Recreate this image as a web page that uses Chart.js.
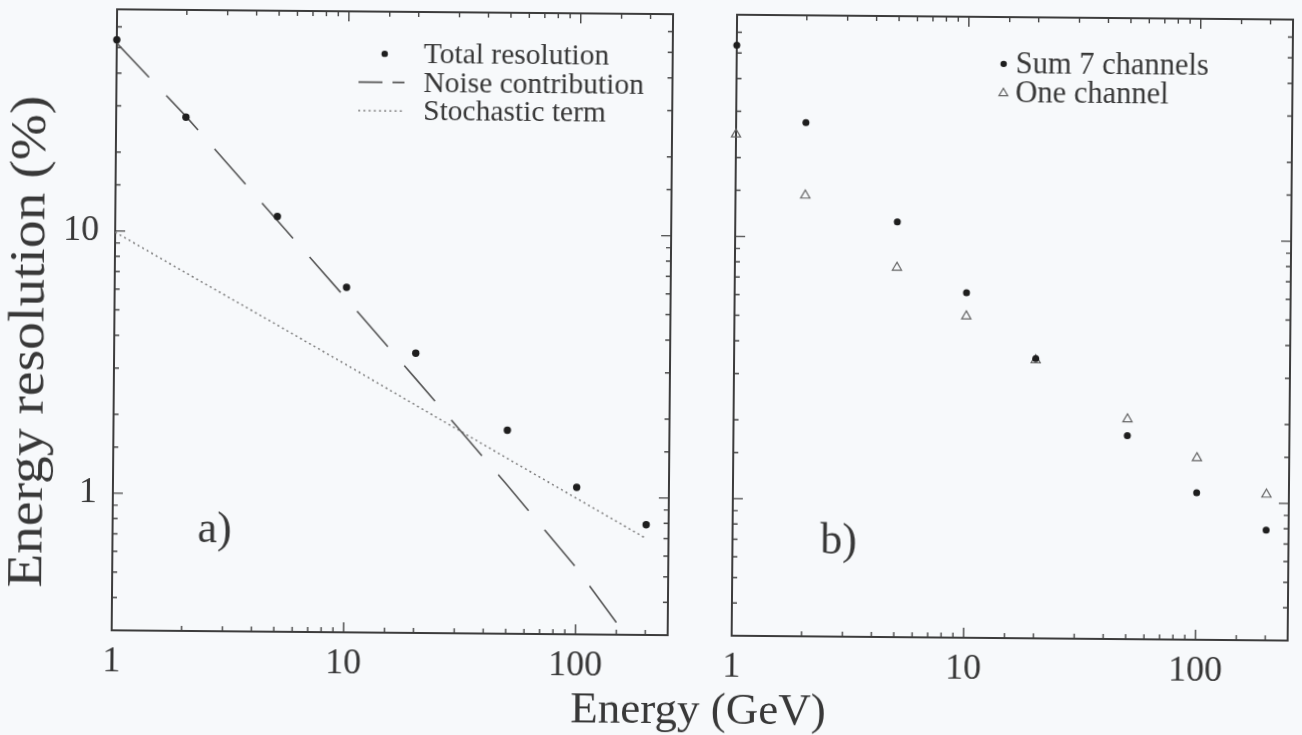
<!DOCTYPE html>
<html>
<head>
<meta charset="utf-8">
<title>Energy resolution vs energy</title>
<script src="https://cdn.jsdelivr.net/npm/chart.js@4.4.1/dist/chart.umd.min.js"></script>
<style>
  html, body { margin: 0; padding: 0; background: #f7f9fb; overflow: hidden; }
  #page {
    position: relative; width: 1302px; height: 735px; background: #f7f9fb;
    transform: rotate(0.5deg); transform-origin: 651px 367px;
    font-family: 'Liberation Serif', 'Times New Roman', serif; color: #383838;
  }
  #panelA { position: absolute; left: 0; top: 0; }
  #panelB { position: absolute; left: 700px; top: 0; }
  #xTitle {
    position: absolute; left: 451px; width: 500px; top: 686px;
    text-align: center; font-size: 45px; line-height: 45px; white-space: nowrap;
  }
  #yTitle {
    position: absolute; left: 26px; top: 347px; width: 600px;
    text-align: center; font-size: 50px; line-height: 50px; white-space: nowrap;
    transform: translate(-50%, -50%) rotate(-90deg) scaleX(1.11);
  }
</style>
</head>
<body>
<div id="page">
  <canvas id="panelA" width="700" height="735"></canvas>
  <canvas id="panelB" width="602" height="735"></canvas>
  <div id="yTitle">Energy resolution (%)</div>
  <div id="xTitle">Energy (GeV)</div>
</div>
<script>
// Beam energies (GeV) of the measured points
const energies = [1, 2, 5, 10, 20, 50, 100, 200];

// Panel a) total energy resolution (%)
const totalResolution = [53.6, 27.3, 11.5, 6.2, 3.5, 1.79, 1.09, 0.79];

// Panel a) fitted noise contribution (%)
const noiseEnergies = [1, 2, 5, 10, 20, 50, 100, 150];
const noiseContribution = [52, 27.5, 11.1, 5.6, 2.8, 1.11, 0.54, 0.334];

// Panel a) stochastic term (%)
const stochasticEnergies = [1, 2, 5, 10, 20, 50, 100, 200];
const stochasticTerm = [9.9, 7.0, 4.45, 3.15, 2.22, 1.4, 0.99, 0.70];

// Panel b) resolution summing 7 channels vs a single channel (%)
const sumSevenChannels = [53.6, 27.3, 11.5, 6.2, 3.5, 1.79, 1.09, 0.79];
const oneChannel = [24.5, 14.4, 7.7, 5.05, 3.45, 2.07, 1.48, 1.08];

// Axis ranges and labelled ticks
const xRange = [1, 250];
const yRange = [0.3, 70];
const xTickValues = [1, 10, 100];
const xTickLabels = ['1', '10', '100'];
const yTickValues = [1, 10];
const yTickLabels = ['1', '10'];

const SERIF = "'Liberation Serif', 'Times New Roman', serif";
const INK = '#383838';

const pairs = (xs, ys) => xs.map((x, i) => ({ x, y: ys[i] }));
const labelFor = (values, labels) => (v) => {
  const i = values.findIndex(t => Math.abs(t - v) < 1e-9 * Math.max(1, t));
  return i >= 0 ? labels[i] : '';
};
const isDecade = (v) => Math.abs(Math.log10(v) - Math.round(Math.log10(v))) < 1e-9;

// Frame around the plot area with inward ticks on all four sides
const frameTicks = {
  id: 'frameTicks',
  beforeDatasetsDraw(chart) {
    const { ctx, chartArea: a, scales } = chart;
    ctx.save();
    ctx.strokeStyle = '#454545';
    ctx.lineWidth = 1.4;
    scales.x.ticks.forEach(t => {
      if (t.value <= scales.x.min || t.value >= scales.x.max) return;
      const px = scales.x.getPixelForValue(t.value);
      const len = isDecade(t.value) ? 10 : 5;
      ctx.beginPath();
      ctx.moveTo(px, a.bottom); ctx.lineTo(px, a.bottom - len);
      ctx.moveTo(px, a.top); ctx.lineTo(px, a.top + len);
      ctx.stroke();
    });
    scales.y.ticks.forEach(t => {
      if (t.value <= scales.y.min || t.value >= scales.y.max) return;
      const py = scales.y.getPixelForValue(t.value);
      const len = isDecade(t.value) ? 10 : 5;
      ctx.beginPath();
      ctx.moveTo(a.left, py); ctx.lineTo(a.left + len, py);
      ctx.moveTo(a.right, py); ctx.lineTo(a.right - len, py);
      ctx.stroke();
    });
    ctx.lineWidth = 2;
    ctx.strokeStyle = '#3c3c3c';
    ctx.strokeRect(a.left, a.top, a.right - a.left, a.bottom - a.top);
    ctx.restore();
  }
};

// Legend drawn inside the plot area, plus the panel tag
const insideLegend = {
  id: 'insideLegend',
  afterDatasetsDraw(chart, args, opts) {
    const { ctx } = chart;
    ctx.save();
    ctx.font = `${opts.fontSize}px ${SERIF}`;
    ctx.textBaseline = 'alphabetic';
    ctx.textAlign = 'left';
    chart.data.datasets.forEach((ds, i) => {
      const base = opts.y + i * opts.rowHeight;
      const mid = base - opts.fontSize * 0.3;
      ctx.fillStyle = INK;
      ctx.fillText(ds.label, opts.textX, base);
      if (ds.showLine) {
        ctx.strokeStyle = ds.borderColor;
        ctx.lineWidth = ds.borderWidth;
        ctx.setLineDash(ds.legendDash || []);
        ctx.beginPath();
        ctx.moveTo(opts.lineFrom, mid);
        ctx.lineTo(opts.lineTo, mid);
        ctx.stroke();
        ctx.setLineDash([]);
      } else if (ds.pointStyle === 'triangle') {
        const r = opts.triangleRadius;
        ctx.strokeStyle = ds.borderColor;
        ctx.lineWidth = ds.borderWidth;
        ctx.beginPath();
        ctx.moveTo(opts.markerX, mid - r);
        ctx.lineTo(opts.markerX + r * 0.95, mid + r * 0.6);
        ctx.lineTo(opts.markerX - r * 0.95, mid + r * 0.6);
        ctx.closePath();
        ctx.stroke();
      } else {
        ctx.fillStyle = ds.backgroundColor;
        ctx.beginPath();
        ctx.arc(opts.markerX, mid, opts.markerRadius, 0, Math.PI * 2);
        ctx.fill();
      }
    });
    if (opts.tag) {
      ctx.font = `${opts.tagSize}px ${SERIF}`;
      ctx.fillStyle = INK;
      ctx.textAlign = 'center';
      ctx.textBaseline = 'middle';
      ctx.fillText(opts.tag, opts.tagX, opts.tagY);
    }
    ctx.restore();
  }
};

Chart.defaults.font.family = SERIF;
Chart.defaults.color = INK;

function logScales(showYLabels, yAxisWidth) {
  return {
    x: {
      type: 'logarithmic', min: xRange[0], max: xRange[1],
      grid: { display: false, drawTicks: false },
      border: { display: false },
      ticks: {
        autoSkip: false, maxRotation: 0, padding: 10,
        font: { size: 36 }, color: INK,
        callback: labelFor(xTickValues, xTickLabels)
      },
      afterFit(s) { s.height = 100; s.paddingLeft = 0; s.paddingRight = 0; }
    },
    y: {
      type: 'logarithmic', min: yRange[0], max: yRange[1],
      grid: { display: false, drawTicks: false },
      border: { display: false },
      ticks: {
        display: showYLabels, autoSkip: false, padding: 16,
        font: { size: 36 }, color: INK,
        callback: labelFor(yTickValues, yTickLabels)
      },
      afterFit(s) { s.width = yAxisWidth; s.paddingTop = 0; s.paddingBottom = 0; }
    }
  };
}

new Chart(document.getElementById('panelA'), {
  type: 'scatter',
  data: {
    datasets: [
      {
        label: 'Total resolution', data: pairs(energies, totalResolution),
        pointRadius: 3.7, pointHoverRadius: 3.7, backgroundColor: '#1e1e1e',
        borderColor: '#1e1e1e', borderWidth: 0, showLine: false, clip: false
      },
      {
        label: 'Noise contribution', data: pairs(noiseEnergies, noiseContribution),
        showLine: true, pointRadius: 0, borderColor: '#555555', borderWidth: 1.6,
        borderDash: [47, 25], legendDash: [24, 10], backgroundColor: 'transparent'
      },
      {
        label: 'Stochastic term', data: pairs(stochasticEnergies, stochasticTerm),
        showLine: true, pointRadius: 0, borderColor: '#7d7d7d', borderWidth: 1.5,
        borderDash: [2, 3.2], legendDash: [2, 3.2], backgroundColor: 'transparent'
      }
    ]
  },
  options: {
    responsive: false, animation: false, events: [],
    layout: { padding: { left: 0, top: 14, right: 30, bottom: 0 } },
    scales: logScales(true, 114),
    plugins: {
      legend: { display: false }, tooltip: { enabled: false },
      insideLegend: {
        fontSize: 29.5, y: 65, rowHeight: 28.5, textX: 421,
        markerX: 382, markerRadius: 3.2, lineFrom: 356, lineTo: 402,
        tag: 'a)', tagSize: 44, tagX: 216, tagY: 534
      }
    }
  },
  plugins: [frameTicks, insideLegend]
});

new Chart(document.getElementById('panelB'), {
  type: 'scatter',
  data: {
    datasets: [
      {
        label: 'Sum 7 channels', data: pairs(energies, sumSevenChannels),
        pointRadius: 3.5, pointHoverRadius: 3.5, backgroundColor: '#1e1e1e',
        borderColor: '#1e1e1e', borderWidth: 0, showLine: false, clip: false
      },
      {
        label: 'One channel', data: pairs(energies, oneChannel),
        pointStyle: 'triangle', pointRadius: 5.3, pointHoverRadius: 5.3,
        backgroundColor: 'rgba(0,0,0,0)', borderColor: '#656565', borderWidth: 1.2,
        showLine: false, clip: false
      }
    ]
  },
  options: {
    responsive: false, animation: false, events: [],
    layout: { padding: { left: 0, top: 14, right: 12, bottom: 0 } },
    scales: logScales(false, 34),
    plugins: {
      legend: { display: false }, tooltip: { enabled: false },
      insideLegend: {
        fontSize: 30.5, y: 70, rowHeight: 29, textX: 313,
        markerX: 301, markerRadius: 3.2, triangleRadius: 4.6,
        tag: 'b)', tagSize: 44, tagX: 140, tagY: 540
      }
    }
  },
  plugins: [frameTicks, insideLegend]
});
</script>
</body>
</html>
